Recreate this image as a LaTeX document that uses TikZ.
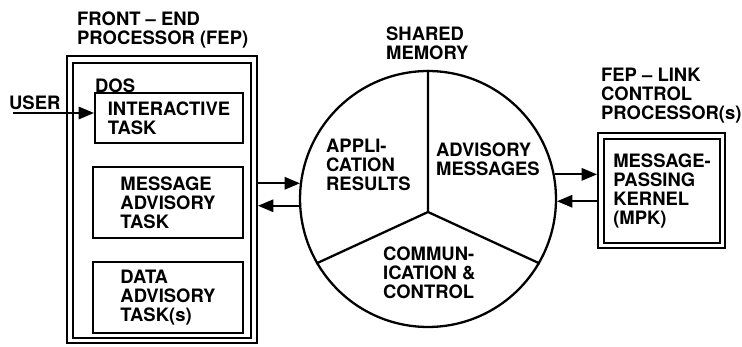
\documentclass[tikz,border=0pt]{standalone}
\usepackage{fontspec}
\setmainfont{TeX Gyre Heros}
\usetikzlibrary{arrows}

\tikzset{
  lbl/.style={font=\bfseries\fontsize{10.5}{10.8}\selectfont, align=left, inner sep=0pt},
  taskbox/.style={draw, lbl, minimum width=3cm, minimum height=1.42cm},
  link/.style={line width=1pt},
}

\begin{document}
\begin{tikzpicture}[x=0.02cm, y=-0.02cm, >=triangle 45, line width=1.3pt]
\useasboundingbox (0,0) rectangle (742,347);

  % front-end processor
  \node (fep) at (162,199.5) [draw, minimum width=3.8cm, minimum height=5.74cm] {};
  \node (fepin) at (162,200.5) [draw, minimum width=3.56cm, minimum height=5.5cm] {};
  \node (feptitle) at (76,30) [lbl, anchor=west] {FRONT \textendash\ END\\PROCESSOR (FEP)};
  \node (dos) at (94,86) [lbl, anchor=west] {DOS};

  \node (itask) at (169,118) [taskbox, minimum width=2.96cm, minimum height=1cm] {INTERACTIVE\\TASK};
  \node (mtask) at (168,202.5) [taskbox] {MESSAGE\\ADVISORY\\TASK};
  \node (dtask) at (168,297.5) [taskbox] {DATA\\ADVISORY\\TASK(s)};

  \node (user) at (8,103) [lbl, anchor=west] {USER};
  \coordinate (userin) at (13,113);
  \draw [link, ->] (userin) -- (userin -| itask.west);

  % shared memory
  \node (mem) at (428,199) [draw, circle, minimum size=5.12cm, inner sep=0pt] {};
  \coordinate (hub) at (428,212);
  \draw (mem.north) -- (hub) -- (mem.210);
  \draw (hub) -- (mem.-30);

  \node (memtitle) at (385,43) [lbl, anchor=west] {SHARED\\MEMORY};
  \node (appres) at (325,165) [lbl, anchor=west] {APPLI-\\CATION\\RESULTS};
  \node (advmsg) at (435,159) [lbl, anchor=west] {ADVISORY\\MESSAGES};
  \node (commctl) at (382,273) [lbl, anchor=west] {COMMUN-\\ICATION \&\\CONTROL};

  % link control processor
  \node (mpk) at (661.5,190.5) [draw, minimum width=2.54cm, minimum height=2.3cm] {};
  \node (kernel) at (662,191) [draw, lbl, minimum width=2.32cm, minimum height=2.08cm] {MESSAGE-\\PASSING\\KERNEL\\(MPK)};
  \node (mpktitle) at (600,95.5) [lbl, anchor=west] {FEP \textendash\ LINK\\CONTROL\\PROCESSOR(s)};

  \draw [link, ->] (fep.east |- mem.173) -- (mem.173);
  \draw [link, <-] (fep.east |- mem.183) -- (mem.183);
  \draw [link, ->] (mem.11) -- (mem.11 -| mpk.west);
  \draw [link, <-] (mem.-1) -- (mem.-1 -| mpk.west);
\end{tikzpicture}
\end{document}
